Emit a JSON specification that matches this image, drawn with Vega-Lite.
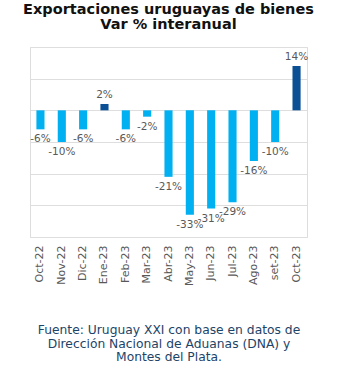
{
  "$schema": "https://vega.github.io/schema/vega-lite/v6.json",
  "width": 277,
  "height": 190,
  "autosize": "none",
  "padding": {"left": 30, "top": 47, "right": 43, "bottom": 131},
  "background": "white",
  "title": {
    "text": ["Exportaciones uruguayas de bienes", "Var % interanual"],
    "font": "DejaVu Sans",
    "fontSize": 14.5,
    "fontWeight": "bold",
    "color": "#111111",
    "anchor": "middle",
    "lineHeight": 15,
    "offset": 15
  },
  "data": {
    "values": [
      {"mes": "Oct-22", "valor": -6},
      {"mes": "Nov-22", "valor": -10},
      {"mes": "Dic-22", "valor": -6},
      {"mes": "Ene-23", "valor": 2},
      {"mes": "Feb-23", "valor": -6},
      {"mes": "Mar-23", "valor": -2},
      {"mes": "Abr-23", "valor": -21},
      {"mes": "May-23", "valor": -33},
      {"mes": "Jun-23", "valor": -31},
      {"mes": "Jul-23", "valor": -29},
      {"mes": "Ago-23", "valor": -16},
      {"mes": "set-23", "valor": -10},
      {"mes": "Oct-23", "valor": 14}
    ]
  },
  "transform": [
    {"calculate": "(datum.valor < 0 ? '-' : '') + abs(datum.valor) + '%'", "as": "etiqueta"}
  ],
  "encoding": {
    "x": {
      "field": "mes",
      "type": "nominal",
      "sort": null,
      "scale": {"paddingInner": 0.62, "paddingOuter": 0.3},
      "axis": {
        "title": ["Fuente: Uruguay XXI con base en datos de", "Dirección Nacional de Aduanas (DNA) y", "Montes del Plata."],
        "titleFont": "DejaVu Sans",
        "titleFontSize": 12.3,
        "titleFontWeight": "normal",
        "titleColor": "#1d4468",
        "titleLineHeight": 13.5,
        "titlePadding": 38,
        "labelAngle": -90,
        "labelFont": "DejaVu Sans",
        "labelFontSize": 11,
        "labelColor": "#595959",
        "labelPadding": 8,
        "domain": false,
        "ticks": false,
        "grid": false
      }
    },
    "y": {
      "field": "valor",
      "type": "quantitative",
      "scale": {"domain": [-40, 20], "nice": false},
      "axis": {
        "title": null,
        "labels": false,
        "ticks": false,
        "domain": false,
        "values": [-40, -30, -20, -10, 0, 10, 20],
        "gridColor": "#dedede",
        "gridWidth": 1.2
      }
    }
  },
  "layer": [
    {
      "mark": {"type": "bar", "stroke": "#0a4680", "strokeWidth": 0},
      "encoding": {
        "color": {
          "condition": {"test": "datum.valor > 0", "value": "#0b4f94"},
          "value": "#00b0f0"
        }
      }
    },
    {
      "transform": [{"filter": "datum.valor < 0"}],
      "mark": {"type": "text", "baseline": "top", "dy": 5, "font": "DejaVu Sans", "fontSize": 10.5, "color": "#595959"},
      "encoding": {
        "text": {"field": "etiqueta", "type": "nominal"}
      }
    },
    {
      "transform": [{"filter": "datum.valor > 0"}],
      "mark": {"type": "text", "baseline": "bottom", "dy": -4, "font": "DejaVu Sans", "fontSize": 10.5, "color": "#595959"},
      "encoding": {
        "text": {"field": "etiqueta", "type": "nominal"}
      }
    }
  ]
}
